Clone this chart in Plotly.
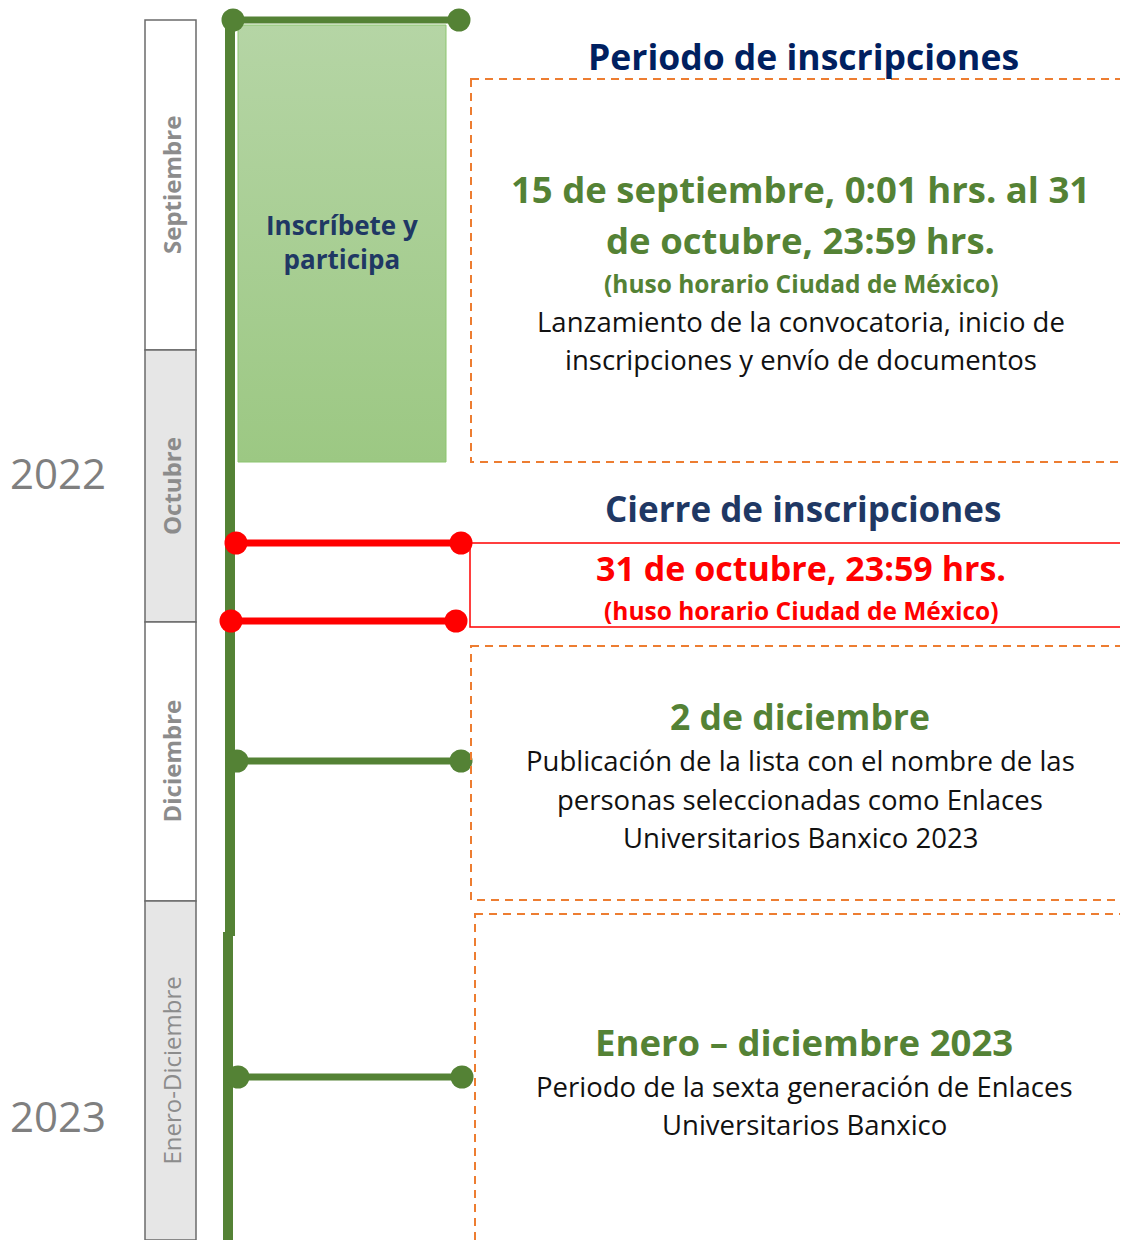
import plotly.graph_objects as go

# ---------------- data ----------------
months = ["Septiembre", "Octubre", "Diciembre", "Enero-Diciembre"]
month_edges = [20, 350, 622, 901, 1240]          # timeline scale (y units)
month_bold = [True, True, True, False]
month_fill = ["#ffffff", "#e6e6e6", "#ffffff", "#e6e6e6"]
years = ["2022", "2023"]
year_pos = [472, 1115]

event_y_green = [20, 761, 1077]
event_y_red = [543, 621]

headings = ["Periodo de inscripciones", "Cierre de inscripciones"]
heading_y = [56, 508]

W, H = 1128, 1240
OFF = 8  # page body margin
GREEN = "#548235"
RED = "#ff0000"
ORANGE = "#ed7d31"
NAVY = "#1f3864"
FONT = "Open Sans"

fig = go.Figure()
shapes = []
annots = []

# month column
for i, m in enumerate(months):
    shapes.append(dict(type="rect", x0=145, x1=196, y0=month_edges[i], y1=month_edges[i + 1],
                       fillcolor=month_fill[i], line=dict(color="#6b6b6b", width=1.5), layer="below"))
    txt = f"<b>{m}</b>" if month_bold[i] else m
    annots.append(dict(x=171, y=(month_edges[i] + month_edges[i + 1]) / 2, text=txt, textangle=-90,
                       showarrow=False, font=dict(family=FONT, size=24, color="#8c8c8c")))

for yr, yp in zip(years, year_pos):
    annots.append(dict(x=58, y=yp, text=yr, showarrow=False,
                       font=dict(family="Open Sans", size=42, color="#7f7f7f")))

# green rectangle with vertical gradient
fig.add_trace(go.Scatter(x=[238, 446, 446, 238, 238], y=[25, 25, 462, 462, 25], mode="lines",
                         fill="toself", line=dict(color="#8cc56f", width=1),
                         fillgradient=dict(type="vertical",
                                           colorscale=[[0, "#9cc883"], [1, "#b5d5a5"]]),
                         hoverinfo="skip", showlegend=False))
annots.append(dict(x=342, y=242, text="<b>Inscríbete y<br>participa</b>", showarrow=False,
                   font=dict(family=FONT, size=26, color=NAVY)))

# main vertical line (with the small jog of the original)
fig.add_trace(go.Scatter(x=[230, 230], y=[20, 936], mode="lines",
                         line=dict(color=GREEN, width=10), hoverinfo="skip", showlegend=False))
fig.add_trace(go.Scatter(x=[228, 228], y=[932, 1240], mode="lines",
                         line=dict(color=GREEN, width=10), hoverinfo="skip", showlegend=False))

# orange dashed boxes
for (x0, y0, y1) in [(471, 79, 462), (471, 646, 900), (475, 914, 1250)]:
    shapes.append(dict(type="rect", x0=x0, x1=1135, y0=y0, y1=y1, fillcolor="rgba(0,0,0,0)",
                       line=dict(color=ORANGE, width=2, dash="8px,6px")))

# red box
shapes.append(dict(type="rect", x0=470, x1=1135, y0=543, y1=627, fillcolor="rgba(0,0,0,0)",
                   line=dict(color=RED, width=1.5)))

# connectors
green_x = [(233, 459), (237, 461), (238, 462)]
for y, (xa, xb) in zip(event_y_green, green_x):
    fig.add_trace(go.Scatter(x=[xa, xb], y=[y, y], mode="lines+markers",
                             line=dict(color=GREEN, width=7), marker=dict(size=23, color=GREEN),
                             hoverinfo="skip", showlegend=False))
red_x = [(236, 461), (231, 456)]
for y, (xa, xb) in zip(event_y_red, red_x):
    fig.add_trace(go.Scatter(x=[xa, xb], y=[y, y], mode="lines+markers",
                             line=dict(color=RED, width=7), marker=dict(size=23, color=RED),
                             hoverinfo="skip", showlegend=False))

# headings
annots.append(dict(x=803, y=heading_y[0], text=f"<b>{headings[0]}</b>", showarrow=False,
                   font=dict(family=FONT, size=35.5, color="#002060")))
annots.append(dict(x=803, y=heading_y[1], text=f"<b>{headings[1]}</b>", showarrow=False,
                   font=dict(family=FONT, size=35, color=NAVY)))

def txt(x, y, s, size, color, bold=False):
    annots.append(dict(x=x, y=y, text=f"<b>{s}</b>" if bold else s, showarrow=False,
                       font=dict(family=FONT, size=size, color=color)))

BODY = 27.5
txt(800, 189, "15 de septiembre, 0:01 hrs. al 31", 36.5, GREEN, True)
txt(800, 240, "de octubre, 23:59 hrs.", 36.5, GREEN, True)
txt(801, 283, "(huso horario Ciudad de México)", 24.5, GREEN, True)
txt(801, 321, "Lanzamiento de la convocatoria, inicio de", BODY, "#111111")
txt(801, 359, "inscripciones y envío de documentos", BODY, "#111111")

txt(801, 568, "31 de octubre, 23:59 hrs.", 34, RED, True)
txt(801, 610, "(huso horario Ciudad de México)", 24.5, RED, True)

txt(800, 716, "2 de diciembre", 35.5, GREEN, True)
txt(800, 760, "Publicación de la lista con el nombre de las", BODY, "#111111")
txt(800, 799, "personas seleccionadas como Enlaces", BODY, "#111111")
txt(800, 837, "Universitarios Banxico 2023", BODY, "#111111")

txt(804, 1042, "Enero – diciembre 2023", 36.5, GREEN, True)
txt(804, 1086, "Periodo de la sexta generación de Enlaces", BODY, "#111111")
txt(804, 1124, "Universitarios Banxico", BODY, "#111111")

fig.update_layout(width=W - OFF, height=H - OFF, margin=dict(l=0, r=0, t=0, b=0),
                  paper_bgcolor="white", plot_bgcolor="white",
                  xaxis=dict(range=[OFF, W], visible=False, fixedrange=True),
                  yaxis=dict(range=[H, OFF], visible=False, fixedrange=True),
                  shapes=shapes, annotations=annots, showlegend=False)
fig.write_html("out.html")
